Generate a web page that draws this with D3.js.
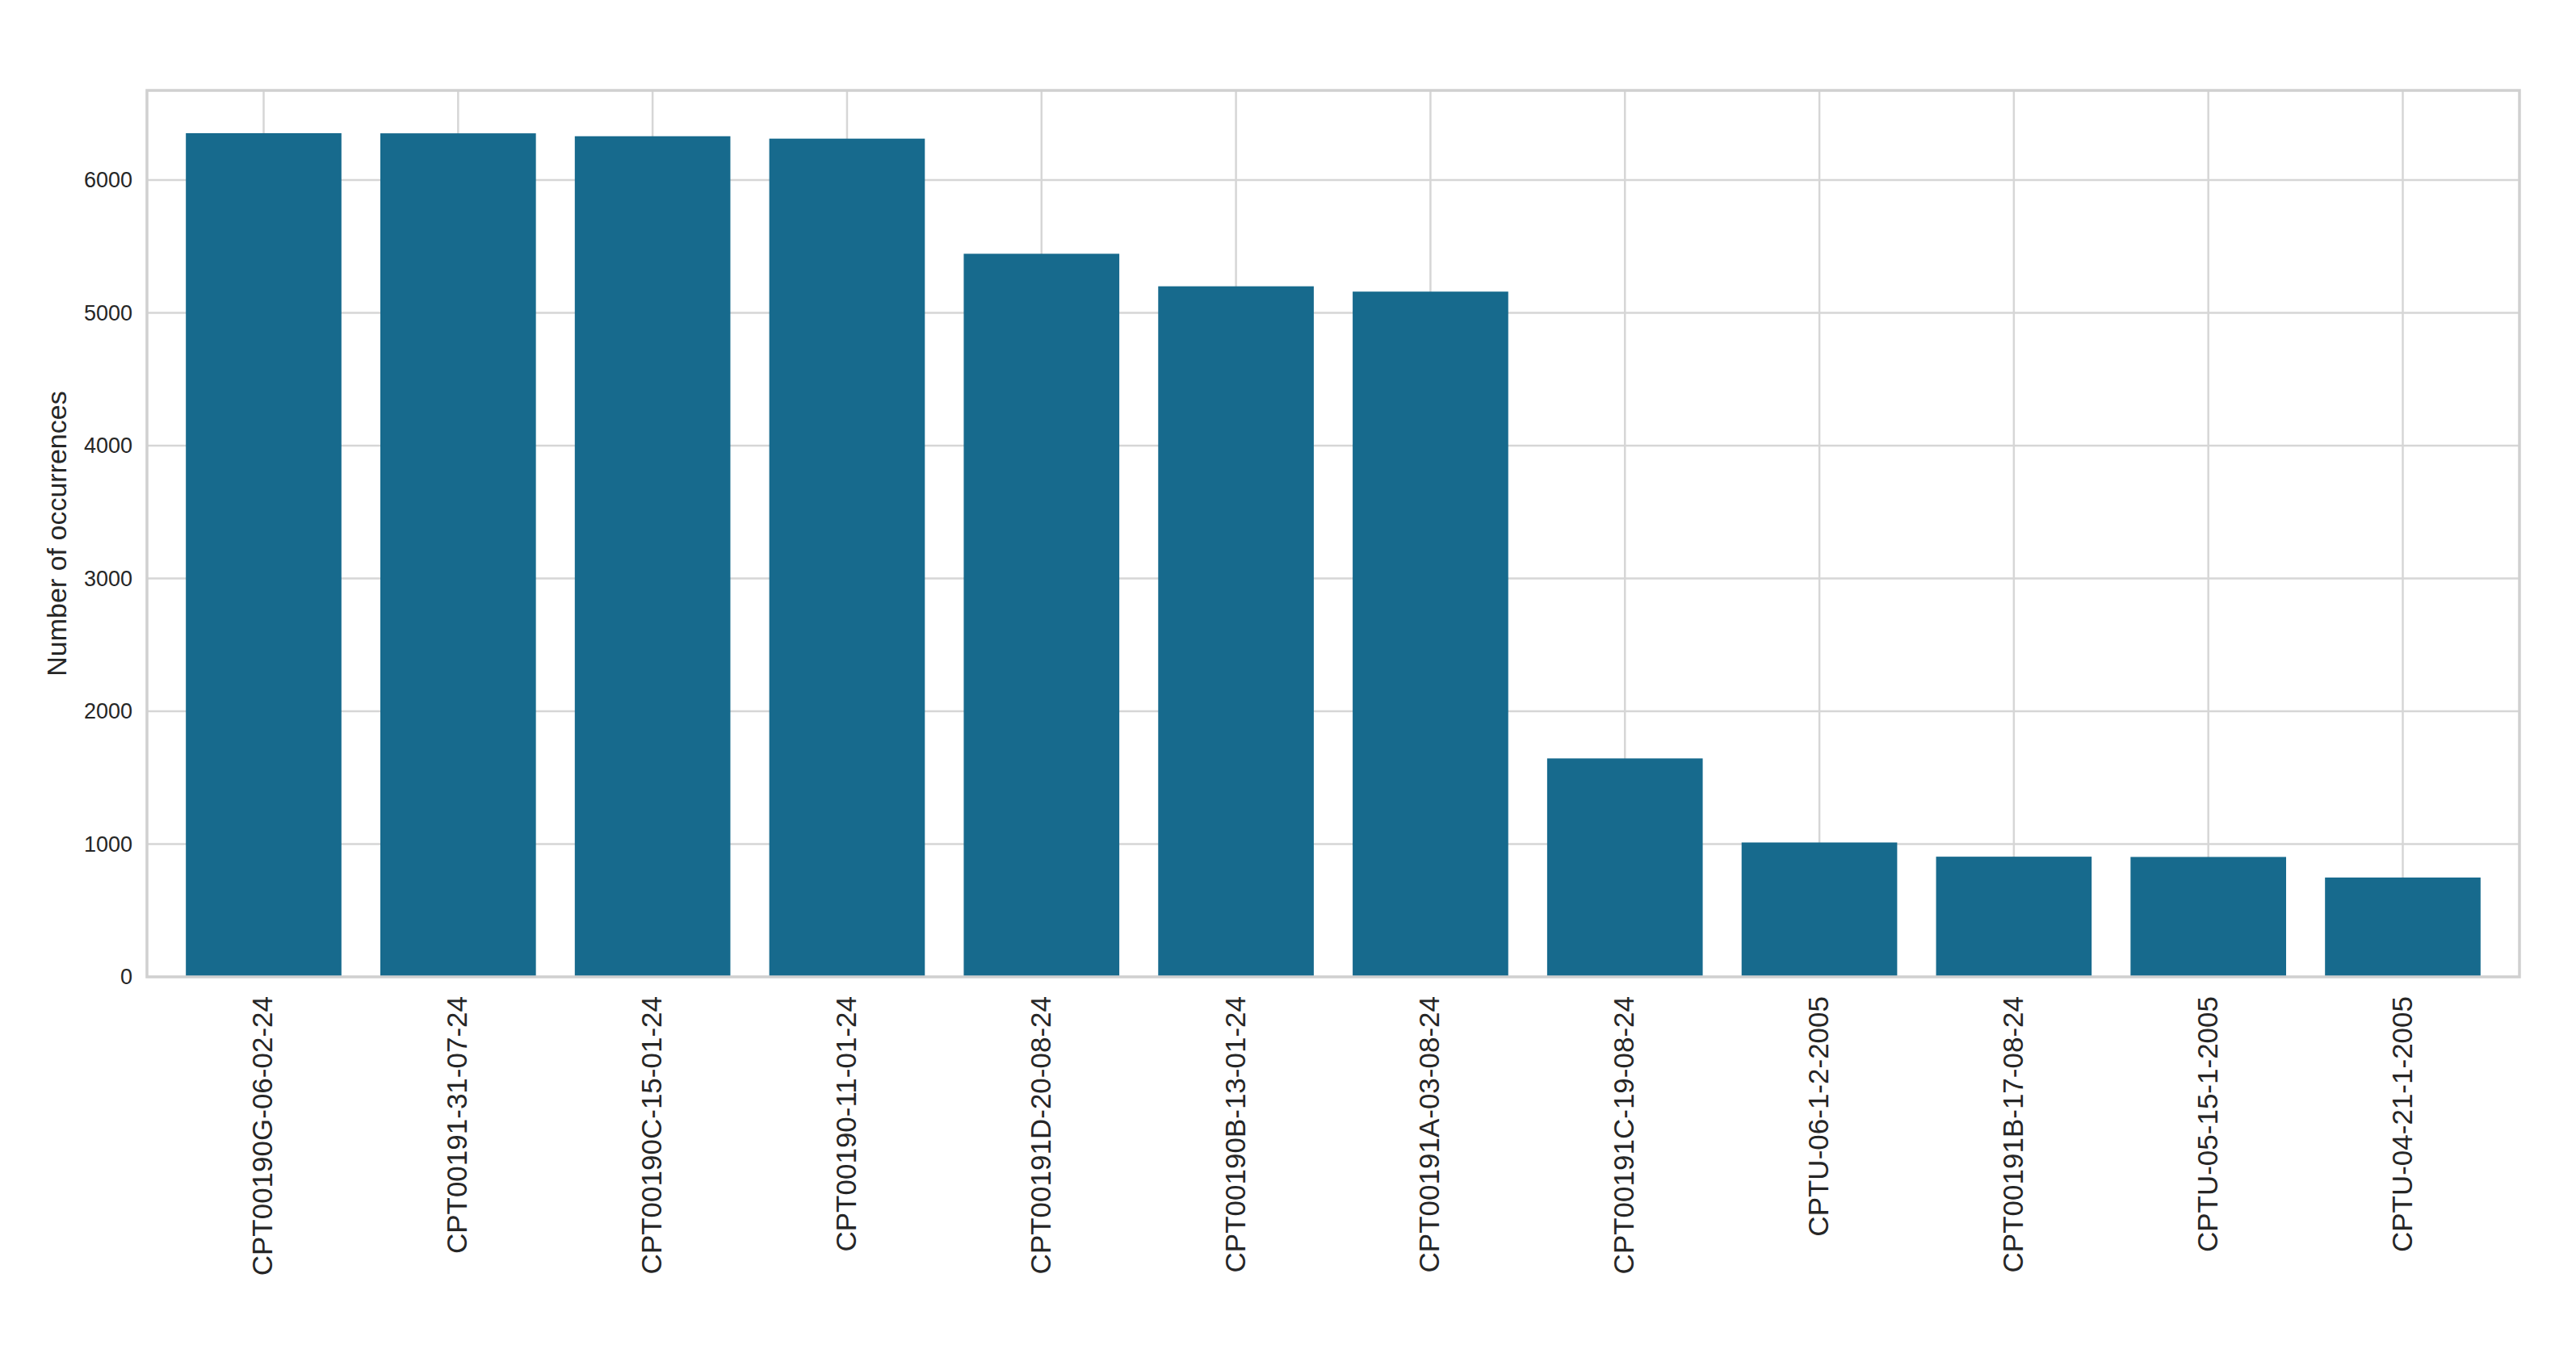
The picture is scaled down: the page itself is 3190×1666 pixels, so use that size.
<!DOCTYPE html><html><head><meta charset="utf-8"><script src="https://cdn.jsdelivr.net/npm/d3@7"></script>
<style>body{margin:0;background:#fff}</style></head><body><svg id="c" width="3190" height="1666"></svg><script>
const categories=["CPT00190G-06-02-24","CPT00191-31-07-24","CPT00190C-15-01-24","CPT00190-11-01-24","CPT00191D-20-08-24","CPT00190B-13-01-24","CPT00191A-03-08-24","CPT00191C-19-08-24","CPTU-06-1-2-2005","CPT00191B-17-08-24","CPTU-05-15-1-2005","CPTU-04-21-1-2005"];
const values=[6353,6352,6330,6312,5445,5200,5160,1645,1012,905,903,748];
const yTicks=[0,1000,2000,3000,4000,5000,6000];
const svg=d3.select("#c");
const L=182,R=3120,T=112,B=1210;
const x=d3.scaleBand().domain(categories).range([L,R]).padding(0.2);
const y=d3.scaleLinear().domain([0,6675]).range([B,T]);
const g=svg.append("g");
g.selectAll(".hg").data(yTicks).join("line").attr("x1",L).attr("x2",R).attr("y1",d=>y(d)).attr("y2",d=>y(d)).attr("stroke","#d6d6d6").attr("stroke-width",2.5);
g.selectAll(".vg").data(categories).join("line").attr("x1",d=>x(d)+x.bandwidth()/2).attr("x2",d=>x(d)+x.bandwidth()/2).attr("y1",T).attr("y2",B).attr("stroke","#d6d6d6").attr("stroke-width",2.5);
g.selectAll("rect.b").data(values).join("rect").attr("x",(d,i)=>x(categories[i])).attr("width",x.bandwidth()).attr("y",d=>y(d)).attr("height",d=>B-y(d)).attr("fill","#176a8d");
svg.append("rect").attr("x",L).attr("y",T).attr("width",R-L).attr("height",B-T).attr("fill","none").attr("stroke","#d0d0d0").attr("stroke-width",3.5);
svg.selectAll("text.yt").data(yTicks).join("text").attr("x",L-18).attr("y",d=>y(d)).attr("dy","0.35em").attr("text-anchor","end").attr("font-family","Liberation Sans, Arial").attr("font-size",27).attr("fill","#262626").text(d=>d);
svg.selectAll("text.xt").data(categories).join("text").attr("transform",d=>`translate(${x(d)+x.bandwidth()/2+11},${B+24}) rotate(-90)`).attr("text-anchor","end").attr("font-family","Liberation Sans, Arial").attr("font-size",35).attr("fill","#262626").text(d=>d);
svg.append("text").attr("transform",`translate(82,${(T+B)/2}) rotate(-90)`).attr("text-anchor","middle").attr("font-family","Liberation Sans, Arial").attr("font-size",34).attr("fill","#262626").text("Number of occurrences");
</script></body></html>
